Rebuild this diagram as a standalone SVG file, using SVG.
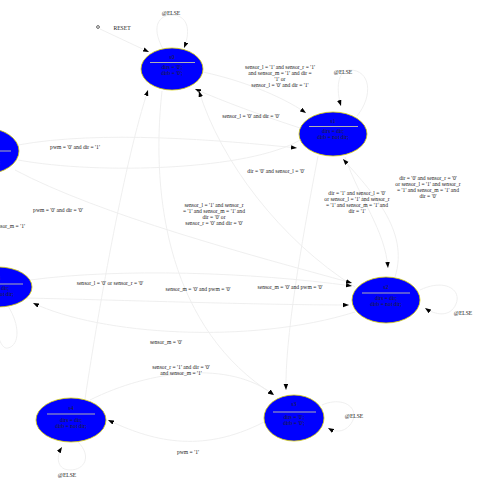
<svg xmlns="http://www.w3.org/2000/svg" width="500" height="495" viewBox="0 0 500 495">
<style>
text{font-family:"Liberation Serif","DejaVu Serif",serif;font-size:5.6px;fill:#222;text-anchor:middle}
.st{fill:#0000ff;stroke:#d8d000;stroke-width:0.8}
.sep{stroke:#b0b0b0;stroke-width:1}
.e{fill:none;stroke:#ededed;stroke-width:0.9;marker-end:url(#ah)}
.ln{fill:none;stroke:#ededed;stroke-width:0.9}
</style>
<defs>
<marker id="ah" markerUnits="userSpaceOnUse" markerWidth="7" markerHeight="5" refX="6" refY="2.25" orient="auto">
<path d="M0,0 L6,2.25 L0,4.5 z" fill="#000"/>
</marker>
</defs>
<rect width="500" height="495" fill="#fff"/>
<g id="connectors">
<path class="e" d="M100,29 L149,52"/>
<path class="e" d="M163,49 C150,25 160,15 172,15 C186,15 192,28 184,48"/>
<path class="e" d="M203,72 C240,80 280,95 306,113"/>
<path class="e" d="M300,128 C260,115 225,102 195,89"/>
<path class="e" d="M355,287 C280,240 220,160 199,91"/>
<path class="e" d="M85,399 C100,300 125,160 148,90"/>
<path class="e" d="M162,91 C150,200 170,330 274,395"/>
<path class="e" d="M318,156 C300,250 285,340 286,390"/>
<path class="e" d="M357,116 C374,95 370,70 350,70 C337,70 336,90 341,106"/>
<path class="e" d="M18,145 C100,130 220,140 297,148"/>
<path class="e" d="M345,157 C360,200 385,230 388,268"/>
<path class="e" d="M395,277 C410,230 370,190 343,159"/>
<path class="ln" d="M300,140 C250,170 100,175 18,160"/>
<path class="e" d="M15,170 C100,215 250,255 352,283"/>
<path class="e" d="M30,280 C120,268 250,272 352,286"/>
<path class="e" d="M355,312 C250,345 100,335 33,303"/>
<path class="e" d="M25,298 C120,300 260,305 349,305"/>
<path class="e" d="M420,290 C445,278 462,290 456,304 C450,318 435,315 425,308"/>
<path class="e" d="M322,405 C345,395 362,410 350,425 C343,433 335,432 328,428"/>
<path class="e" d="M90,400 C150,370 230,360 274,395"/>
<path class="e" d="M264,422 C200,455 150,440 108,420"/>
<path class="e" d="M78,442 C92,456 85,470 70,470 C58,470 55,458 62,447"/>
<path class="ln" d="M8,306 C20,325 20,345 8,348 C0,350 -5,330 -5,306"/>
</g>
<g id="reset">
<circle cx="98" cy="27" r="1.4" fill="none" stroke="#000" stroke-width="0.6"/>
<text x="122" y="30">RESET</text>
</g>
<g id="s0">
<ellipse class="st" cx="172" cy="69" rx="31" ry="21"/>
<text x="172" y="59">s0</text>
<line class="sep" x1="150" y1="62.5" x2="195" y2="62.5"/>
<text x="172" y="69">dirs = '0';</text>
<text x="172" y="75">dirb = '0';</text>
</g>
<g id="s1">
<ellipse class="st" cx="333" cy="134" rx="34" ry="22"/>
<text x="333" y="123">s1</text>
<line class="sep" x1="309" y1="126.5" x2="358" y2="126.5"/>
<text x="333" y="133">dirs = dir;</text>
<text x="333" y="139">dirb = not dir;</text>
</g>
<g id="s2">
<ellipse class="st" cx="386" cy="300" rx="34" ry="23"/>
<text x="386" y="289">s2</text>
<line class="sep" x1="362" y1="293" x2="410" y2="293"/>
<text x="386" y="299.5">dirs = dir;</text>
<text x="386" y="305.5">dirb = not dir;</text>
</g>
<g id="s3">
<ellipse class="st" cx="294" cy="418" rx="30" ry="23"/>
<text x="294" y="406">s3</text>
<line class="sep" x1="273" y1="412" x2="316" y2="412"/>
<text x="294" y="419">dirs = '0';</text>
<text x="294" y="425">dirb = '0';</text>
</g>
<g id="s4">
<ellipse class="st" cx="71" cy="420" rx="35" ry="22"/>
<text x="71" y="410">s4</text>
<line class="sep" x1="47" y1="414" x2="95" y2="414"/>
<text x="71" y="422">dirs = dir;</text>
<text x="71" y="428">dirb = not dir;</text>
</g>
<g id="s5">
<ellipse class="st" cx="-2" cy="287" rx="34" ry="20"/>
<text x="-2" y="280">s5</text>
<line class="sep" x1="-26" y1="284" x2="23" y2="284"/>
<text x="-2" y="290">dirs = dir;</text>
<text x="-2" y="296">dirb = not dir;</text>
</g>
<g id="s6">
<ellipse class="st" cx="-15" cy="151" rx="34" ry="23"/>
<text x="-15" y="144">s6</text>
<line class="sep" x1="-39" y1="151" x2="11" y2="151"/>
<text x="-15" y="158">dirs = dir;</text>
<text x="-15" y="164">dirb = not dir;</text>
</g>
<g id="labels">
<text x="171" y="15">@ELSE</text>
<text x="343" y="74">@ELSE</text>
<text x="463" y="315">@ELSE</text>
<text x="354" y="418">@ELSE</text>
<text x="67" y="477">@ELSE</text>
<text x="280" y="69">sensor_l = '1' and sensor_r  = '1'</text>
<text x="280" y="75">and sensor_m = '1' and dir =</text>
<text x="280" y="81">'1' or</text>
<text x="280" y="87">sensor_l = '0' and dir = '1'</text>
<text x="251" y="118">sensor_l = '0' and dir = '0'</text>
<text x="75" y="149">pwm = '0' and dir = '1'</text>
<text x="276" y="173">dir = '0' and sensor_l = '0'</text>
<text x="58" y="212">pwm = '0' and dir = '0'</text>
<text x="25" y="228" style="text-anchor:end">sensor_m = '1'</text>
<text x="214" y="207">sensor_l = '1' and sensor_r</text>
<text x="214" y="213">= '1'  and sensor_m = '1' and</text>
<text x="214" y="219">dir = '0' or</text>
<text x="214" y="225">sensor_r = '0' and dir = '0'</text>
<text x="428" y="180">dir = '0' and sensor_r = '0'</text>
<text x="428" y="186">or sensor_l = '1' and sensor_r</text>
<text x="428" y="192">= '1' and sensor_m = '1' and</text>
<text x="428" y="198">dir = '0'</text>
<text x="357" y="195">dir = '1' and sensor_l = '0'</text>
<text x="357" y="201">or sensor_l = '1' and sensor_r</text>
<text x="357" y="207">= '1' and sensor_m = '1' and</text>
<text x="357" y="213">dir = '1'</text>
<text x="110" y="285">sensor_l = '0' or sensor_r = '0'</text>
<text x="198" y="291">sensor_m = '0' and pwm = '0'</text>
<text x="290" y="289">sensor_m = '0' and pwm = '0'</text>
<text x="166" y="344">sensor_m = '0'</text>
<text x="181" y="369">sensor_r = '1' and dir = '0'</text>
<text x="181" y="375">and sensor_m = '1'</text>
<text x="188" y="454">pwm = '1'</text>
</g>
</svg>
